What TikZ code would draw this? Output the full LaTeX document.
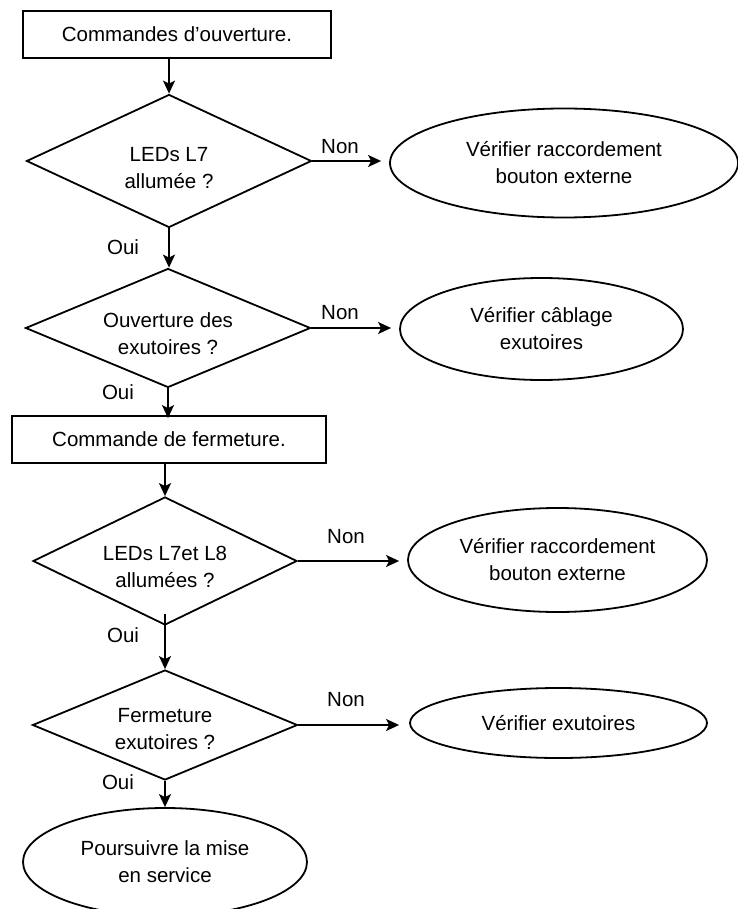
\documentclass[tikz,border=0pt]{standalone}
\usepackage{fontspec}
\setmainfont{Liberation Sans}
\usetikzlibrary{shapes.geometric,arrows.meta}
\begin{document}
\begin{tikzpicture}[x=1pt,y=-1pt,
  txt/.style={font=\fontsize{20.5}{27}\selectfont, align=center, inner sep=0pt},
  proc/.style={draw, line width=1.8pt, minimum width=#1, minimum height=47pt, inner sep=0pt, font=\fontsize{20.5}{27}\selectfont},
  dec/.style 2 args={draw, diamond, line width=1.8pt, minimum width=#1, minimum height=#2, inner sep=0pt},
  term/.style 2 args={draw, ellipse, line width=1.8pt, minimum width=#1, minimum height=#2, inner sep=0pt, align=center, font=\fontsize{20.5}{27}\selectfont},
  flow/.style={line width=1.9pt, -{Stealth[length=13pt,width=12pt,inset=3pt]}},
  lbl/.style={font=\fontsize{20.5}{24}\selectfont, inner sep=0pt}
]
\useasboundingbox (0,0) rectangle (737,909);

% boxes
\node[proc=308pt] (b1) at (177,34.5) {Commandes d’ouverture.};
\node[proc=314pt] (b2) at (169,439.5) {Commande de fermeture.};

% decisions
\node[dec={285pt}{133pt}] (d1) at (169,161) {};
\node[txt] (d1t) at (169,168) {LEDs L7\\allumée ?};
\node[dec={285pt}{119pt}] (d2) at (168,328) {};
\node[txt] (d2t) at (168,334) {Ouverture des\\exutoires ?};
\node[dec={264pt}{128pt}] (d3) at (165,561) {};
\node[txt] (d3t) at (165,567) {LEDs L7et L8\\allumées ?};
\node[dec={265pt}{110pt}] (d4) at (165,725) {};
\node[txt] (d4t) at (165,729) {Fermeture\\exutoires ?};

% terminals
\node[term={348pt}{109pt}] (e1) at (564,163) {Vérifier raccordement\\bouton externe};
\node[term={283pt}{102pt}] (e2) at (541.5,329) {Vérifier câblage\\exutoires};
\node[term={299pt}{104pt}] (e3) at (557.5,560) {Vérifier raccordement\\bouton externe};
\node[term={297pt}{70pt}] (e4) at (558.5,723) {Vérifier exutoires};
\node[term={284pt}{108pt}] (e5) at (165,862) {Poursuivre la mise\\en service};

% connectors
\draw[flow] (b1.south -| d1.north) -- (d1.north);
\draw[flow] (d1.east) -- ([xshift=-8pt]e1.west |- d1.east);
\draw[flow] (d1.south) -- (d1.south |- d2.north);
\draw[flow] (d2.east) -- ([xshift=-8pt]e2.west |- d2.east);
\draw[flow] (d2.south) -- ([yshift=-3pt]b2.north -| d2.south);
\draw[flow] (b2.south -| d3.north) -- (d3.north);
\draw[flow] (d3.east) -- ([xshift=-8pt]e3.west |- d3.east);
\draw[flow] ([yshift=12pt]d3.south) -- (d4.north);
\draw[flow] (d4.east) -- ([xshift=-10pt]e4.west |- d4.east);
\draw[flow] (d4.south) -- (e5.north);

% labels
\node[lbl] (n1) at (340,147) {Non};
\node[lbl] (n2) at (340,313) {Non};
\node[lbl] (n3) at (346,537) {Non};
\node[lbl] (n4) at (346,700) {Non};
\node[lbl] (o1) at (123,247) {Oui};
\node[lbl] (o2) at (118,392) {Oui};
\node[lbl] (o3) at (123,635) {Oui};
\node[lbl] (o4) at (118,782) {Oui};
\end{tikzpicture}
\end{document}
